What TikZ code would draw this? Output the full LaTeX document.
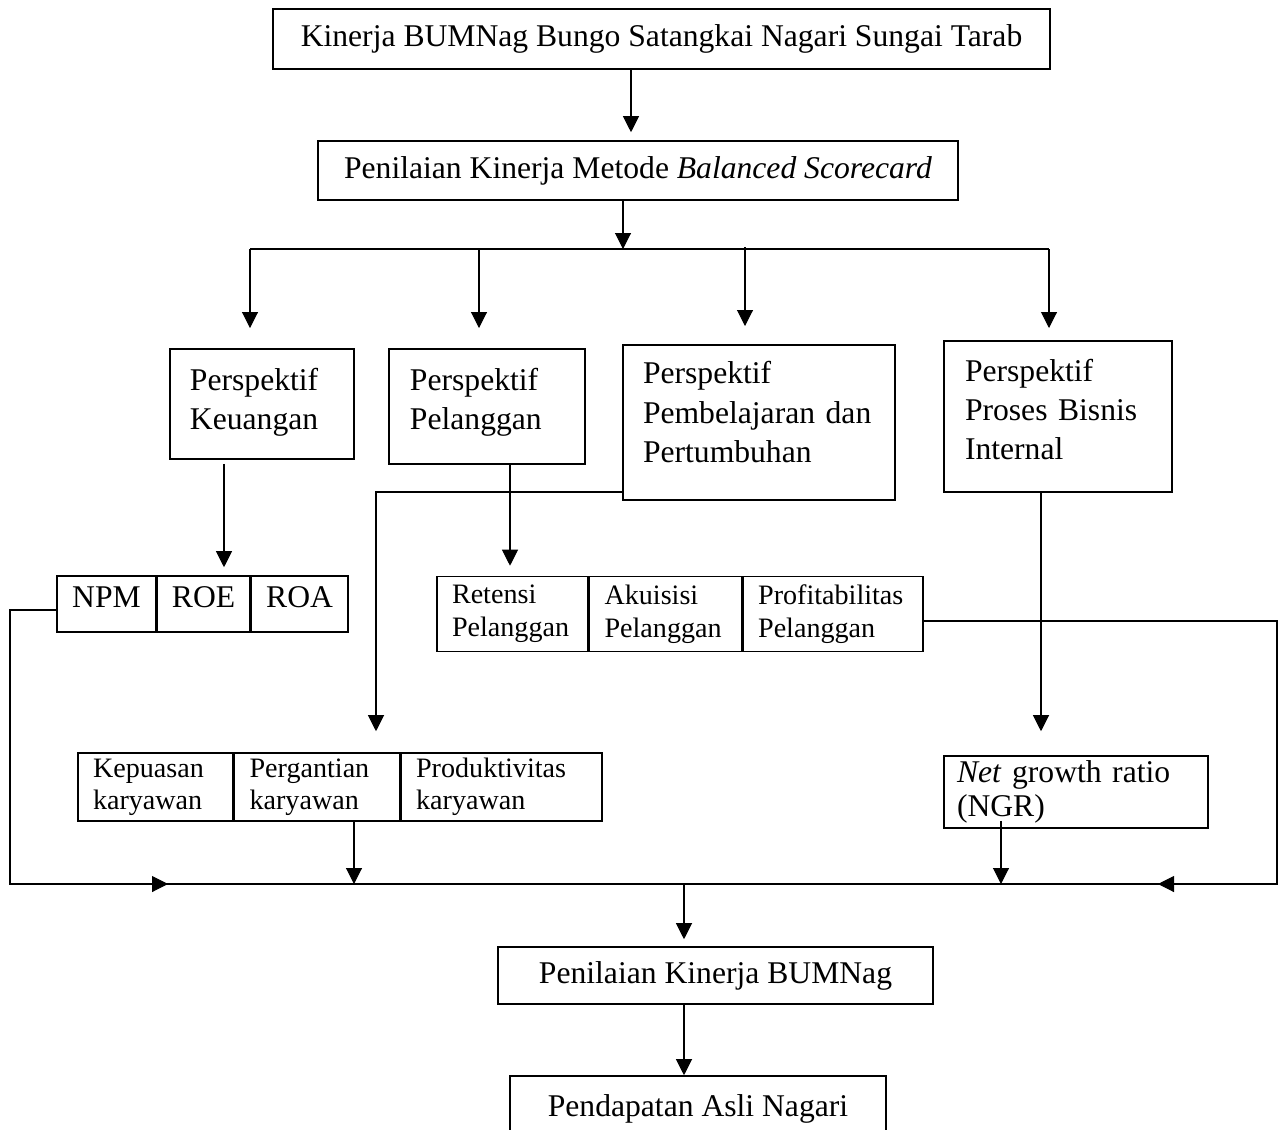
\documentclass[tikz,border=0pt]{standalone}
\usepackage{fontspec}
\setmainfont{Liberation Serif}
\usepackage{tikz}
\usetikzlibrary{arrows.meta,positioning,calc}

\begin{document}
\begin{tikzpicture}[x=0.02cm,y=-0.02cm,
	box/.style={draw,line width=0.9pt,inner sep=0pt,font=\fontsize{18}{22.4}\selectfont},
	persp/.style={box,align=left,inner xsep=0.4cm,outer sep=0pt,anchor=north west},
	topcell/.style={box,align=center,text height=0.62cm,text depth=0.5cm,minimum height=1.12cm},
	cell/.style={draw,line width=0.9pt,inner ysep=0pt,inner xsep=0.3cm,align=left,font=\fontsize{16}{18.8}\selectfont},
	arr/.style={-{Triangle[length=0.32cm,width=0.32cm]},line width=0.6pt},
	link/.style={line width=0.6pt}]
	\useasboundingbox (0,0) rectangle (1279,1130);
	\clip (0,0) rectangle (1279,1130);
	% top
	\node (top) at (661.5,39) [box,minimum width=15.54cm,minimum height=1.2cm] {Kinerja BUMNag Bungo Satangkai Nagari Sungai Tarab};
	\node (bsc) at (638,170.5) [box,minimum width=12.8cm,minimum height=1.18cm] {Penilaian Kinerja Metode \textit{Balanced Scorecard}};
	\coordinate (bus) at (623,249);
	% perspektif
	\node (keu) at (170,349) [persp,text width=2.88cm,text height=0.82cm,text depth=1.38cm] {Perspektif\\Keuangan};
	\node (pel) at (389,349) [persp,inner xsep=0.42cm,text width=3.08cm,text height=0.82cm,text depth=1.48cm] {Perspektif\\Pelanggan};
	\node (pem) at (623,345) [persp,text width=4.64cm,text height=0.78cm,text depth=2.32cm] {Perspektif\\Pembelajaran dan\\Pertumbuhan};
	\node (prs) at (944,341) [persp,inner xsep=0.42cm,text width=3.72cm,text height=0.8cm,text depth=2.22cm] {Perspektif\\Proses Bisnis\\Internal};
	% ukuran
	\node (npm) at (106.5,604) [topcell,minimum width=1.98cm] {NPM};
	\node (roe) [topcell,minimum width=1.84cm,right=0pt of npm] {ROE};
	\node (roa) [topcell,minimum width=1.94cm,right=0pt of roe] {ROA};
	\node (ret) at (512.5,614) [cell,text width=2.42cm,minimum height=1.5cm] {Retensi\\Pelanggan};
	\node (aku) [cell,text width=2.44cm,minimum height=1.5cm,right=0pt of ret] {Akuisisi\\Pelanggan};
	\node (pro) [cell,text width=3cm,minimum height=1.5cm,right=0pt of aku] {Profitabilitas\\Pelanggan};
	\node (kep) at (155.5,787) [cell,font=\fontsize{16}{18.2}\selectfont,text width=2.5cm,minimum height=1.36cm] {Kepuasan\\karyawan};
	\node (gan) [cell,font=\fontsize{16}{18.2}\selectfont,text width=2.7cm,minimum height=1.36cm,right=0pt of kep] {Pergantian\\karyawan};
	\node (prd) [cell,font=\fontsize{16}{18.2}\selectfont,text width=3.42cm,minimum height=1.36cm,right=0pt of gan] {Produktivitas\\karyawan};
	\node (ngr) at (1076,792) [box,align=left,font=\fontsize{18}{19.3}\selectfont,inner xsep=0.26cm,text width=4.76cm,minimum height=1.44cm] {\textit{Net} growth ratio\\(NGR)};
	% hasil
	\coordinate (bot) at (684,884);
	\coordinate (bl) at (10,884);
	\coordinate (br) at (1277,884);
	\node (pkb) at (715.5,975.5) [box,minimum width=8.7cm,minimum height=1.14cm] {Penilaian Kinerja BUMNag};
	\node (pan) at (698,1108.5) [box,minimum width=7.52cm,minimum height=1.3cm] {Pendapatan Asli Nagari};
	% connectors
	\draw [arr,shorten >=0.16cm] (top.south -| 631,0) -- (bsc.north -| 631,0);
	\draw [arr] (bsc.south -| bus) -- (bus);
	\draw [link] (bus -| 250,0) -- (bus -| 1049,0);
	\draw [arr,shorten >=0.42cm] (bus -| 250,0) -- (keu.north -| 250,0);
	\draw [arr,shorten >=0.42cm] (bus -| 479,0) -- (pel.north -| 479,0);
	\draw [arr,shorten >=0.38cm] ($(bus -| 745,0)+(0,-2)$) -- (pem.north -| 745,0);
	\draw [arr,shorten >=0.26cm] (bus -| 1049,0) -- (prs.north -| 1049,0);
	\draw [arr,shorten <=0.1cm,shorten >=0.16cm] (keu.south -| 224,0) -- (npm.north -| 224,0);
	\draw [arr,shorten >=0.2cm] (pel.south -| 510,0) -- (ret.north -| 510,0);
	\draw [arr,shorten >=0.42cm] ($(pem.south west)+(0,-8)$) -| (gan.north -| 376,0);
	\draw [arr,shorten >=0.48cm] (prs.south -| 1041,0) -- (ngr.north -| 1041,0);
	\draw [link] (bl) -- (br);
	\draw [arr] ($(npm.west)+(0,6)$) -| (bl) -- (bot -| 168,0);
	\draw [arr] ($(pro.east)+(0,7)$) -| (br) -- (bot -| 1158,0);
	\draw [arr] (gan.south -| 354,0) -- (bot -| 354,0);
	\draw [arr] ($(ngr.south -| 1001,0)+(0,-8)$) -- (bot -| 1001,0);
	\draw [arr,shorten >=0.14cm] (bot) -- (pkb.north -| bot);
	\draw [arr] (pkb.south -| bot) -- (pan.north -| bot);
\end{tikzpicture}
\end{document}
